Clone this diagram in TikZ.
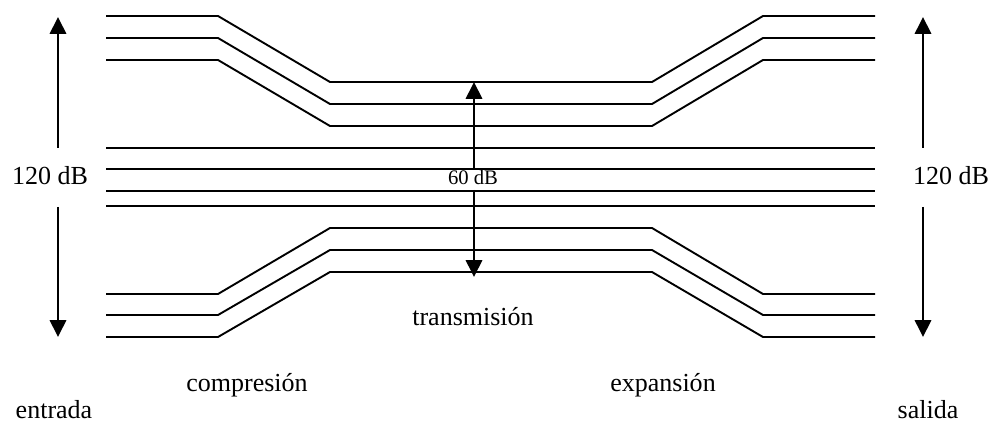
\documentclass[tikz,border=0pt]{standalone}
\usepackage{fontspec}
\setmainfont{Liberation Serif}
\usetikzlibrary{arrows.meta,positioning}

\begin{document}
\begin{tikzpicture}[x=0.025cm,y=-0.025cm,
  sigline/.style={line width=1.35pt},
  spanarrow/.style={-{Triangle[length=12pt,width=11.5pt]},line width=2pt},
  lab/.style={font=\fontsize{18.5}{22}\selectfont,anchor=base,inner sep=0pt},
  small/.style={font=\fontsize{14.7}{17}\selectfont,anchor=base,inner sep=0pt}]
  \useasboundingbox (0,0) rectangle (992,425);
  % upper levels
  \foreach \a/\b in {16/82,38/104,60/126}
    \draw[sigline] (106,\a) -- (218,\a) -- (330,\b) -- (652,\b) -- (763,\a) -- (875,\a);
  % lower levels
  \foreach \a/\b in {294/228,315/250,337/272}
    \draw[sigline] (106,\a) -- (218,\a) -- (330,\b) -- (652,\b) -- (763,\a) -- (875,\a);
  % unchanged levels
  \foreach \a in {148,169,191,206}
    \draw[sigline] (106,\a) -- (875,\a);

  \node[lab] (inlev) at (50,185) {120 dB};
  \node[lab] (outlev) at (951,185) {120 dB};
  \node[small] (midlev) at (473,185) {60 dB};
  \node[lab] (trans) at (473,326) {transmisión};
  \node[lab] (comp) at (247,391) {compresión};
  \node[lab] (expa) at (663,391) {expansión};
  \node[lab] (entr) at (54,418) {entrada};
  \node[lab] (sal) at (928,418) {salida};

  \coordinate (inA) at (58,148);  \coordinate (inTop) at (58,17);
  \coordinate (inB) at (58,207);  \coordinate (inBot) at (58,337);
  \coordinate (outA) at (923,148); \coordinate (outTop) at (923,17);
  \coordinate (outB) at (923,207); \coordinate (outBot) at (923,337);
  \coordinate (midA) at (474,169); \coordinate (midTop) at (474,82);
  \coordinate (midB) at (474,190); \coordinate (midBot) at (474,277);

  \draw[spanarrow] (inA) -- (inTop);
  \draw[spanarrow] (inB) -- (inBot);
  \draw[spanarrow] (outA) -- (outTop);
  \draw[spanarrow] (outB) -- (outBot);
  \draw[spanarrow] (midA) -- (midTop);
  \draw[spanarrow] (midB) -- (midBot);
\end{tikzpicture}
\end{document}
